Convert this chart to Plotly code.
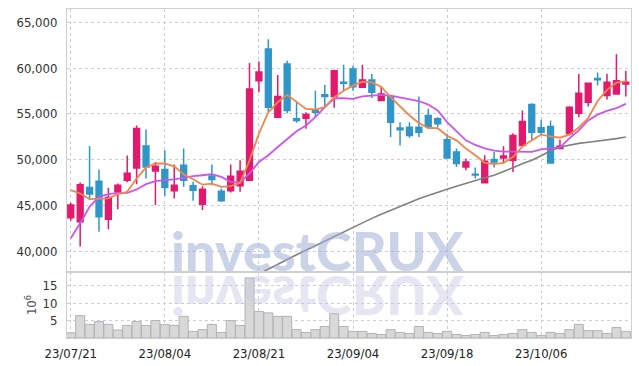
import plotly.graph_objects as go

dates = [
    "23/07/21", "23/07/24", "23/07/25", "23/07/26", "23/07/27", "23/07/28", "23/07/31",
    "23/08/01", "23/08/02", "23/08/03", "23/08/04", "23/08/07", "23/08/08", "23/08/09",
    "23/08/10", "23/08/11", "23/08/14", "23/08/16", "23/08/17", "23/08/18", "23/08/21",
    "23/08/22", "23/08/23", "23/08/24", "23/08/25", "23/08/28", "23/08/29", "23/08/30",
    "23/08/31", "23/09/01", "23/09/04", "23/09/05", "23/09/06", "23/09/07", "23/09/08",
    "23/09/11", "23/09/12", "23/09/13", "23/09/14", "23/09/15", "23/09/18", "23/09/19",
    "23/09/20", "23/09/21", "23/09/22", "23/09/25", "23/09/26", "23/09/27", "23/10/04",
    "23/10/05", "23/10/06", "23/10/10", "23/10/11", "23/10/12", "23/10/13", "23/10/16",
    "23/10/17", "23/10/18", "23/10/19", "23/10/20",
]

open_ = [43650, 43220, 46960, 47640, 43480, 46450, 47750, 49090, 51480, 48760,
         48910, 46590, 49380, 47130, 45110, 48220, 46550, 46590, 47130, 47750,
         58620, 62070, 54630, 60440, 54460, 54520, 55360, 57070, 56880, 58440,
         59890, 57890, 58700, 56450, 56880, 53440, 53540, 53540, 54820, 54460,
         52170, 50830, 49200, 48400, 47460, 50000, 50170, 49920, 51550, 56010,
         53480, 53620, 51200, 52830, 55070, 56260, 58870, 56990, 57170, 58260]
high = [45280, 47500, 51480, 48910, 46910, 47390, 50440, 53730, 53290, 49740,
        51010, 49460, 51200, 47570, 47100, 49460, 46850, 49460, 49920, 60540,
        60720, 63150, 59240, 60790, 56370, 55170, 57530, 58150, 59820, 60360,
        60250, 60360, 59350, 57970, 56880, 54090, 54090, 56880, 55540, 54630,
        52830, 51200, 50110, 49130, 50470, 50830, 51450, 52890, 55360, 56150,
        54350, 54270, 52170, 55830, 59350, 58400, 59520, 59380, 61520, 59710]
low = [43330, 40500, 45580, 42130, 42390, 44570, 47530, 47300, 47940, 45030,
       46010, 45760, 47020, 45500, 44490, 47210, 45400, 46410, 46480, 47670,
       57350, 55170, 54600, 55070, 54020, 53370, 54630, 55720, 55650, 57460,
       57530, 57850, 56740, 56390, 52460, 51550, 52390, 52460, 53400, 53540,
       50100, 49200, 48840, 47940, 47390, 49130, 49670, 48650, 51450, 52100,
       52700, 49600, 51120, 52800, 54630, 55790, 58080, 56560, 57100, 56880]
close = [45030, 47250, 46230, 43760, 45870, 47210, 48510, 53400, 49200, 49270,
         46960, 47210, 47750, 46660, 46770, 47830, 45500, 48190, 48730, 57720,
         59570, 55720, 56880, 55360, 54270, 54920, 55170, 56880, 59710, 58330,
         57970, 58700, 57350, 57170, 54090, 53260, 52640, 53000, 53620, 53910,
         50170, 49570, 49740, 48330, 49820, 49740, 50390, 52640, 54160, 53000,
         53000, 49630, 51450, 55720, 57240, 58330, 58730, 58440, 58620, 58440]

ma5 = [46660, 46300, 45690, 45690, 45760, 46230, 46480, 47940, 49130, 49570,
       49570, 49270, 48400, 47860, 47260, 47380, 47020, 47100, 47460, 49900,
       52830, 55170, 56260, 57070, 56260, 55540, 55470, 55720, 56810, 57530,
       58080, 58510, 58440, 57970, 56810, 55790, 54820, 54000, 53450, 53430,
       52600, 52100, 51200, 50470, 49650, 49500, 49630, 50280, 51420, 52100,
       52730, 52530, 52390, 52730, 53510, 54540, 56400, 57620, 58400, 58540]
ma20 = [41410, 43040, 44850, 45930, 46230, 46370, 46370, 46740, 47320, 47640,
        47750, 47830, 48000, 48190, 48290, 48400, 48110, 47570, 47500, 48480,
        49740, 50470, 51370, 52280, 53100, 53730, 54630, 55720, 56700, 56700,
        56630, 56910, 56990, 57070, 56990, 56800, 56630, 56400, 56010, 55360,
        54090, 53090, 52100, 51600, 51230, 50990, 50880, 50880, 50880, 50850,
        51120, 51200, 51340, 52320, 53190, 54270, 54910, 55320, 55630, 56090]
ma60 = [None] * 19 + [
    36990, 37530, 38040, 38550, 39090, 39600, 40100, 40600, 41110, 41630,
    42150, 42660, 43120, 43580, 44030, 44460, 44870, 45290, 45710, 46080,
    46450, 46770, 47100, 47420, 47750, 48020, 48290, 48670, 49110, 49540,
    49920, 50410, 50960, 51370, 51580, 51770, 51890, 52010, 52100, 52290, 52470]

volume_m = [1.5, 6.4, 3.9, 4.7, 3.9, 2.3, 3.6, 4.7, 3.6, 5.0,
            3.9, 3.6, 6.2, 1.9, 2.4, 3.9, 1.6, 5.0, 3.6, 17.2,
            7.6, 7.2, 6.2, 6.2, 2.4, 1.6, 2.4, 3.3, 7.0, 3.3,
            1.9, 1.9, 1.3, 1.0, 2.4, 1.6, 1.3, 3.3, 1.6, 1.3,
            1.9, 1.0, 0.7, 1.0, 1.6, 0.7, 1.0, 1.3, 2.4, 1.6,
            0.7, 1.6, 1.3, 2.4, 3.9, 2.1, 2.1, 1.3, 3.0, 1.9]

price_ticks = [40000, 45000, 50000, 55000, 60000, 65000]
volume_ticks = [5, 10, 15]
date_ticks = [dates[i] for i in range(0, 60, 10)]

UP = "#e2196c"
DOWN = "#3096c8"
GRID = "#c7cce0"
FRAME = "#cfcfcf"
TICKFONT = dict(family="DejaVu Sans Condensed", size=13, color="#333333")

fig = go.Figure()

fig.add_trace(go.Bar(
    x=dates, y=volume_m, xaxis="x2", yaxis="y2",
    marker=dict(color="#d8d8d8", line=dict(color="#b3b3b3", width=1)),
    showlegend=False, hoverinfo="skip",
))

fig.add_trace(go.Scatter(x=dates, y=ma60, mode="lines", line=dict(color="#808080", width=1.6),
                         showlegend=False, hoverinfo="skip"))
fig.add_trace(go.Scatter(x=dates, y=ma20, mode="lines", line=dict(color="#cc55ee", width=1.8),
                         showlegend=False, hoverinfo="skip"))
fig.add_trace(go.Scatter(x=dates, y=ma5, mode="lines", line=dict(color="#f0864a", width=1.8),
                         showlegend=False, hoverinfo="skip"))

fig.add_trace(go.Candlestick(
    x=dates, open=open_, high=high, low=low, close=close,
    increasing=dict(line=dict(color=UP, width=1.5), fillcolor=UP),
    decreasing=dict(line=dict(color=DOWN, width=1.5), fillcolor=DOWN),
    showlegend=False,
))

axis_common = dict(showline=True, linecolor=FRAME, linewidth=1, mirror=True,
                   showgrid=True, gridcolor=GRID, griddash="dot", gridwidth=1,
                   zeroline=False, automargin=False)

fig.update_layout(
    width=639, height=366,
    margin=dict(l=67, r=8, t=9, b=28),
    paper_bgcolor="white", plot_bgcolor="white",
    bargap=0.04,
    boxgap=0.12,
    xaxis=dict(type="category", domain=[0, 1], anchor="y", range=[-0.4, 59.55],
               tickvals=date_ticks, showticklabels=False, rangeslider=dict(visible=False),
               **axis_common),
    yaxis=dict(domain=[0.2006, 1], anchor="x", range=[37720, 66450],
               tickvals=price_ticks, tickformat=",", tickfont=TICKFONT,
               ticks="", ticklabelstandoff=6, **axis_common),
    xaxis2=dict(type="category", domain=[0, 1], anchor="y2", matches="x",
                range=[-0.4, 59.55], tickvals=date_ticks, ticktext=date_ticks,
                tickfont=dict(family="DejaVu Sans Condensed", size=13, color="#222222"),
                ticks="", ticklabelstandoff=3, **axis_common),
    yaxis2=dict(domain=[0, 0.2006], anchor="x2", range=[0, 18.9],
                tickvals=volume_ticks, tickfont=TICKFONT, ticks="", ticklabelstandoff=6,
                title=dict(text="10<sup>6</sup>", standoff=2,
                           font=dict(family="DejaVu Sans Condensed", size=13, color="#555555")),
                **axis_common),
    annotations=[
        dict(text="investCRUX", xref="paper", yref="paper", x=0.445, y=0.2006,
             xanchor="center", yanchor="bottom", yshift=-13, showarrow=False,
             font=dict(family="Lato", size=54, weight=900, color="rgba(160,174,214,0.55)")),
        dict(text="investCRUX", xref="paper", yref="paper", x=0.445, y=0.2006,
             xanchor="center", yanchor="top", yshift=10, showarrow=False,
             font=dict(family="Lato", size=54, weight=900, color="rgba(200,200,226,0.45)")),
    ],
)

post = """
document.body.style.margin = '0';
document.documentElement.style.margin = '0';
var gd = document.getElementById('{plot_id}');
var anns = gd.querySelectorAll('.annotation');
if (anns.length > 1) {
  var t = anns[1].querySelector('text');
  if (t) {
    t.style.transformBox = 'fill-box';
    t.style.transformOrigin = 'center';
    t.style.transform = 'scaleY(-1)';
  }
}
"""

fig.write_html("out.html", post_script=post, config={"displayModeBar": False})
